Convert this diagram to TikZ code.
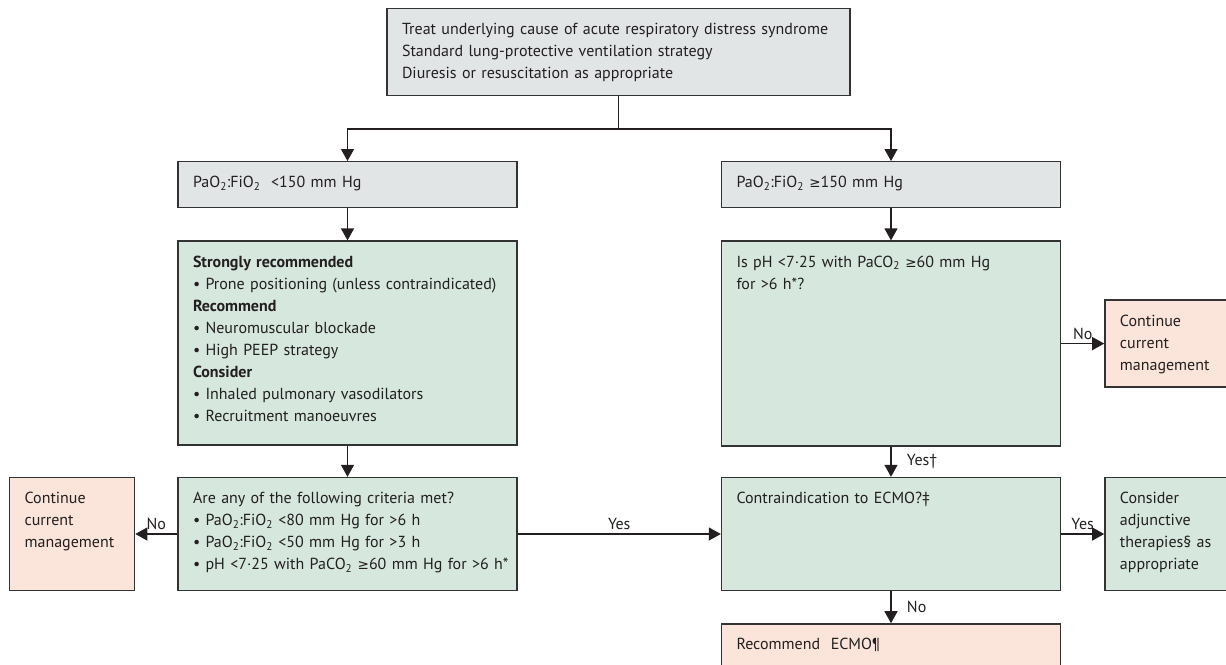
\documentclass[tikz,border=0pt]{standalone}
\usepackage{fontspec}
\setmainfont{PT Sans}
\newfontfamily\symfont[Scale=0.85]{DejaVu Sans}
\usetikzlibrary{positioning,arrows.meta}
\definecolor{ink}{HTML}{231F20}
\definecolor{boxline}{HTML}{333333}
\definecolor{greybox}{HTML}{E2E5E6}
\definecolor{greenbox}{HTML}{D6E7DE}
\definecolor{orangebox}{HTML}{FBE5DA}
\tikzstyle{box}=[draw=boxline,line width=1.4pt,rectangle,align=left,
  inner xsep=15pt,inner ysep=11pt,text height=15pt,anchor=north]
\tikzstyle{col}=[text width=309pt]
\tikzstyle{side}=[text width=95pt]
\newcommand{\newBox}[4]{\node[box,#3](#1)[#4]{#2};}
\newcommand{\newArrow}[2]{\path[->] (#1) edge (#2);}
\newcommand{\newLink}[4]{\path[->] (#1) edge node[#4] {#3} (#2);}
\newcommand{\ratio}{PaO\textsubscript{2}:FiO\textsubscript{2}}
\newcommand{\atleast}{{\symfont ≥}}

\begin{document}
\begin{tikzpicture}[x=1pt,y=-1pt,node distance=32pt,
      >={Triangle[length=12pt,width=13pt]},line width=1.3pt,
      font=\fontsize{16pt}{22pt}\selectfont,color=ink
      ]
      \useasboundingbox (0,0) rectangle (1226,664);
      % start and the two branches
      \newBox{top}{Treat underlying cause of acute respiratory distress syndrome\\
        Standard lung-protective ventilation strategy\\
        Diuresis or resuscitation as appropriate}{fill=greybox,text width=433pt,text depth=50pt}{at={(618.5,8)}}
      \newBox{lowA}{\ratio\ \ <150 mm Hg}{fill=greybox,col,text depth=9pt}{at={(347.5,161)}}
      \newBox{highA}{\ratio\ \atleast150 mm Hg}{fill=greybox,col,text depth=9pt}{at={(891,161)}}
      % left column
      \newBox{recs}{\textbf{Strongly recommended}\\
        • Prone positioning (unless contraindicated)\\
        \textbf{Recommend}\\
        • Neuromuscular blockade\\
        • High PEEP strategy\\
        \textbf{Consider}\\
        • Inhaled pulmonary vasodilators\\
        • Recruitment manoeuvres}{fill=greenbox,col,text depth=167pt}{below=of lowA}
      \newBox{crit}{Are any of the following criteria met?\\
        • \ratio\ <80 mm Hg for >6 h\\
        • \ratio\ <50 mm Hg for >3 h\\
        • \mbox{pH <7·25 with PaCO\textsubscript{2} \atleast60 mm Hg for >6 h*}}{fill=greenbox,col,text depth=76pt}{below=31pt of recs}
      \newBox{contL}{Continue\\current\\management}{fill=orangebox,side,text depth=76pt}{left=42pt of crit}
      % right column
      \newBox{ph}{Is pH <7·25 with PaCO\textsubscript{2} \atleast60 mm Hg\\
        for >6 h*?}{fill=greenbox,col,text depth=168pt}{below=of highA}
      \newBox{contR}{Continue\\current\\management}{fill=orangebox,side,text depth=50pt}{right=43pt of ph}
      \newBox{contra}{Contraindication to ECMO?‡}{fill=greenbox,col,text depth=76pt}{below=30pt of ph}
      \newBox{adj}{Consider\\adjunctive\\therapies§ as\\appropriate}{fill=greenbox,side,text depth=76pt}{right=43pt of contra}
      \newBox{ecmo}{Recommend\ \ ECMO¶}{fill=orangebox,col,text depth=11pt}{below=of contra}
      % connectors
      \coordinate (split) at (618.5,129);
      \draw (top.south) -- (split);
      \draw[->] (split) -| (lowA);
      \draw[->] (split) -| (highA);
      \newArrow{lowA}{recs}
      \newArrow{recs}{crit}
      \newArrow{highA}{ph}
      \newLink{crit}{contL}{No}{above}
      \newLink{crit}{contra}{Yes}{above}
      \newLink{ph}{contR}{No}{above}
      \newLink{ph}{contra}{Yes†}{right=12pt}
      \newLink{contra}{adj}{Yes}{above}
      \newLink{contra}{ecmo}{No}{right=12pt}
    \end{tikzpicture}
\end{document}
